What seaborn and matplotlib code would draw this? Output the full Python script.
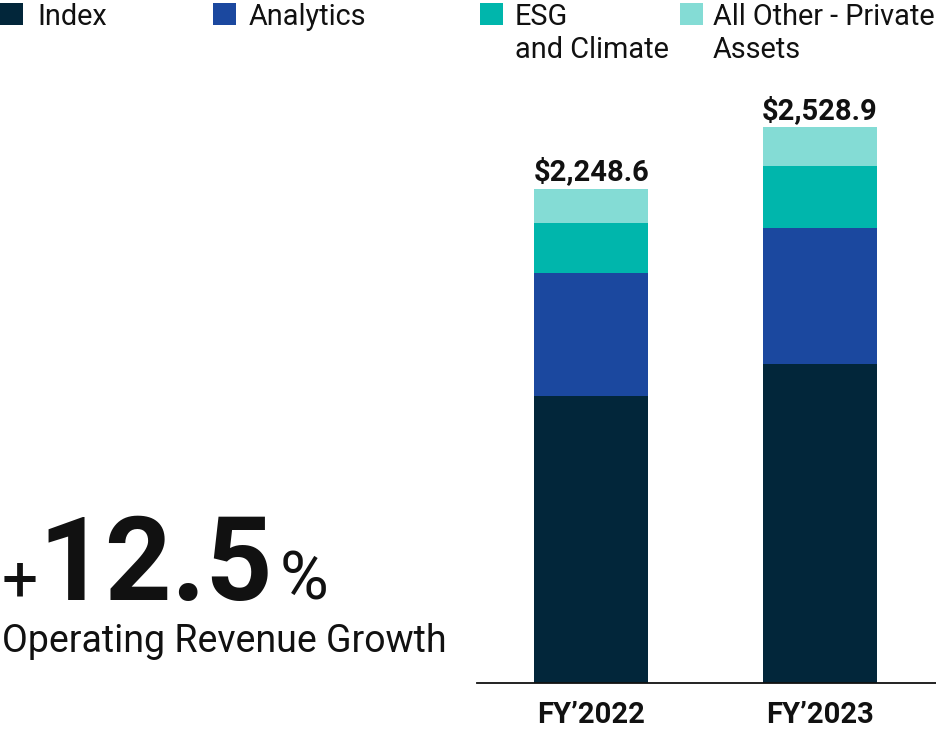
import numpy as np
import pandas as pd
import matplotlib
matplotlib.use("Agg")
import matplotlib.pyplot as plt
from matplotlib.patches import Rectangle
import seaborn as sns

# ---- data (USD millions) ----
years = ["FY\u20192022", "FY\u20192023"]
segments = ["Index", "Analytics", "ESG\nand Climate", "All Other - Private\nAssets"]
index_vals = [1304.6, 1451.6]
analytics_vals = [561.5, 617.6]
esg_vals = [225.0, 283.5]
other_vals = [157.5, 176.2]
totals = ["$2,248.6", "$2,528.9"]
growth_text = "12.5"
subtitle = "Operating Revenue Growth"

colors = ["#02263a", "#1b489f", "#00b6ac", "#84dcd5"]

sns.set_theme(style="white")
plt.rcParams["font.family"] = ["Roboto", "DejaVu Sans"]

W, H = 937, 731
fig = plt.figure(figsize=(W / 100, H / 100), dpi=100)

def fx(x):
    return x / W

def fy(y):
    return 1 - y / H

ax_left, ax_right, ax_bottom = 477, 937, 682.5
ax = fig.add_axes([fx(ax_left), 1 - ax_bottom / H, (ax_right - ax_left) / W, ax_bottom / H])

df = pd.DataFrame({
    "year": years,
    "Index": index_vals,
    "Analytics": analytics_vals,
    "ESG": esg_vals,
    "Other": other_vals,
})
cols = ["Index", "Analytics", "ESG", "Other"]
cum = df[cols].cumsum(axis=1)

# draw cumulative layers from the top segment down so each covers the lower part
for col, c in reversed(list(zip(cols, colors))):
    sns.barplot(data=cum.assign(year=df["year"]), x="year", y=col, color=c,
                width=0.5, ax=ax, saturation=1, linewidth=0, order=years)

ax.set_xlim(-0.5, 1.514)
ax.set_ylim(0, 682.5 / 0.2196)
ax.set_xlabel("")
ax.set_ylabel("")
ax.set_yticks([])
for s in ["top", "right", "left"]:
    ax.spines[s].set_visible(False)
ax.spines["bottom"].set_color("#111111")
ax.spines["bottom"].set_linewidth(1.3)
ax.tick_params(axis="x", length=0, pad=13)
for lab in ax.get_xticklabels():
    lab.set_fontsize(21)
    lab.set_fontweight("bold")
    lab.set_color("#111111")

tot_vals = cum["Other"].values
for i, (t, v) in enumerate(zip(totals, tot_vals)):
    ax.annotate(t, xy=(i, v), xytext=(0, 6), textcoords="offset points",
                ha="center", va="baseline", fontsize=21, fontweight="bold",
                color="#111111")

# ---- legend (manual) ----
leg_sq_x = [0, 213, 480, 680]
leg_txt_x = [37, 249, 515, 713]
for sx, tx, lab, c in zip(leg_sq_x, leg_txt_x, segments, colors):
    fig.patches.append(Rectangle((fx(sx), fy(25)), 23 / W, 22 / H,
                                 transform=fig.transFigure, color=c, linewidth=0))
    lines = lab.split("\n")
    for k, line in enumerate(lines):
        fig.text(fx(tx), fy(25 + 33 * k), line, fontsize=20.8, color="#111111",
                 ha="left", va="baseline")

# ---- growth callout ----
fig.text(fx(2), fy(600), "+", fontsize=46, color="#111111", ha="left", va="baseline")
fig.text(fx(38), fy(600), growth_text, fontsize=84, fontweight="bold",
         color="#111111", ha="left", va="baseline")
fig.text(fx(280), fy(600), "%", fontsize=48, color="#111111", ha="left", va="baseline")
fig.text(fx(2), fy(652), subtitle, fontsize=27, color="#111111", ha="left", va="baseline")

fig.savefig("out.png", dpi=100)
